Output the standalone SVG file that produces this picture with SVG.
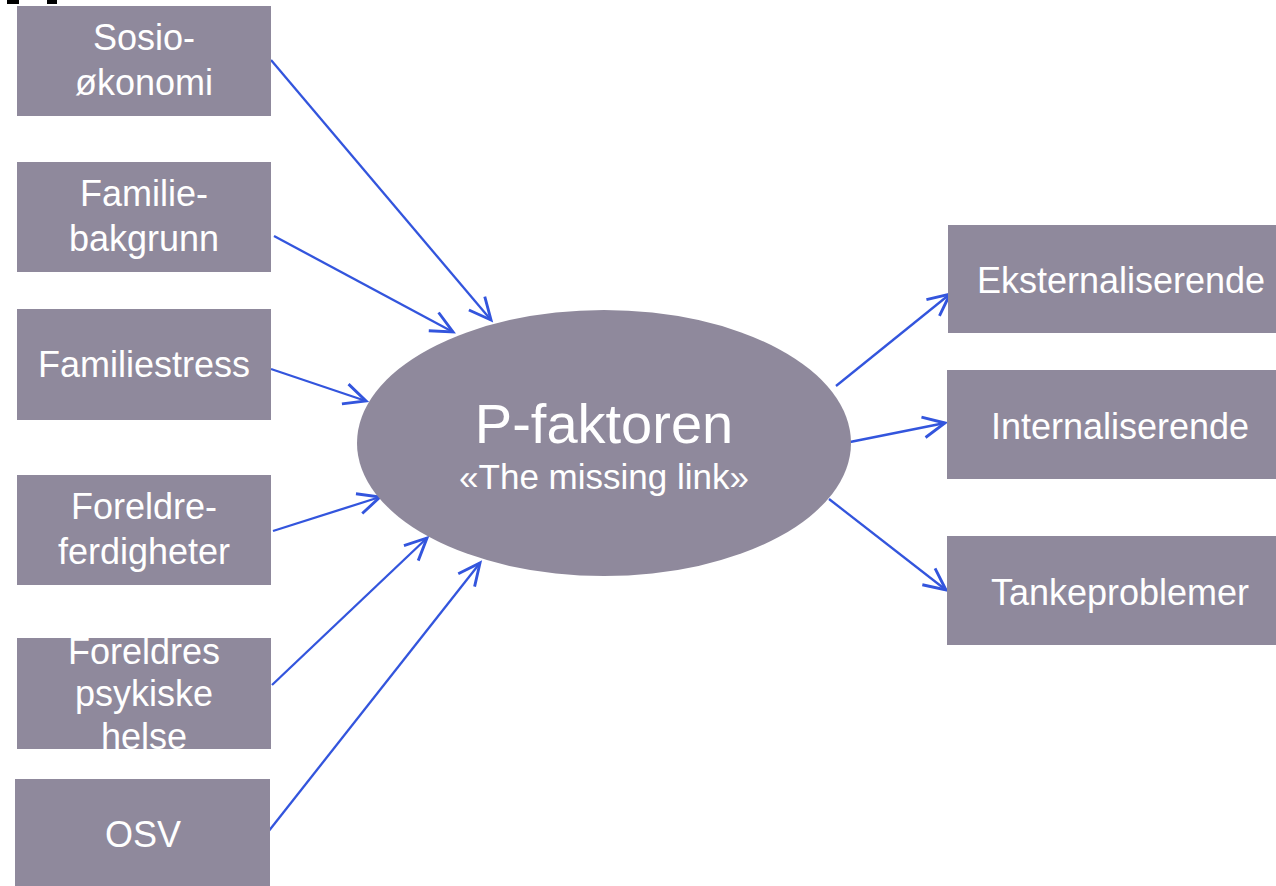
<svg xmlns="http://www.w3.org/2000/svg" width="1276" height="886" viewBox="0 0 1276 886">
<style>
.box{fill:#8f899c}
.t{fill:#ffffff;font-family:"Liberation Sans",Arial,sans-serif;font-size:36px;text-anchor:middle}
.c{stroke:#3355dd;stroke-width:2.3;fill:none}
</style>
<defs>
<marker id="ah" markerUnits="userSpaceOnUse" markerWidth="30" markerHeight="30" viewBox="-22 -12 26 24" refX="0" refY="0" orient="auto">
<path d="M-19,-9 L0,0 L-19,9" fill="none" stroke="#3355dd" stroke-width="2.5" stroke-linejoin="miter"/>
</marker>
</defs>
<rect x="0" y="0" width="1276" height="886" fill="#ffffff"/>
<rect x="7" y="0" width="12" height="4" fill="#000"/>
<rect x="47" y="0" width="10" height="4" fill="#000"/>
<g id="connectors">
<line class="c" x1="271" y1="60" x2="491" y2="320" marker-end="url(#ah)"/>
<line class="c" x1="274" y1="236" x2="453" y2="332" marker-end="url(#ah)"/>
<line class="c" x1="271" y1="369" x2="366" y2="401" marker-end="url(#ah)"/>
<line class="c" x1="273" y1="531" x2="380" y2="497" marker-end="url(#ah)"/>
<line class="c" x1="272" y1="685" x2="427" y2="538" marker-end="url(#ah)"/>
<line class="c" x1="268" y1="832" x2="480" y2="563" marker-end="url(#ah)"/>
<line class="c" x1="836" y1="386" x2="950" y2="294" marker-end="url(#ah)"/>
<line class="c" x1="850" y1="442" x2="945" y2="423" marker-end="url(#ah)"/>
<line class="c" x1="829" y1="499" x2="946" y2="590" marker-end="url(#ah)"/>
</g>
<g id="n-sosio"><rect class="box" x="17" y="6" width="254" height="110"/><text class="t" x="144" y="50">Sosio-</text><text class="t" x="144" y="95">økonomi</text></g>
<g id="n-familie"><rect class="box" x="17" y="162" width="254" height="110"/><text class="t" x="144" y="206">Familie-</text><text class="t" x="144" y="251">bakgrunn</text></g>
<g id="n-stress"><rect class="box" x="17" y="309" width="254" height="111"/><text class="t" x="144" y="377">Familiestress</text></g>
<g id="n-ferdigheter"><rect class="box" x="17" y="475" width="254" height="110"/><text class="t" x="144" y="519">Foreldre-</text><text class="t" x="144" y="564">ferdigheter</text></g>
<g id="n-psykisk"><rect class="box" x="17" y="638" width="254" height="111"/><text class="t" x="144" y="664">Foreldres</text><text class="t" x="144" y="706">psykiske</text><text class="t" x="144" y="749">helse</text></g>
<g id="n-osv"><rect class="box" x="15" y="779" width="255" height="107"/><text class="t" x="143" y="847">OSV</text></g>
<g id="n-p"><ellipse class="box" cx="604" cy="443" rx="247" ry="133"/><text class="t" x="604" y="443" style="font-size:56px">P-faktoren</text><text class="t" x="604" y="489" style="font-size:35px">«The missing link»</text></g>
<g id="n-ekst"><rect class="box" x="948" y="225" width="328" height="108"/><text class="t" x="1121" y="293">Eksternaliserende</text></g>
<g id="n-int"><rect class="box" x="947" y="370" width="329" height="109"/><text class="t" x="1120" y="439">Internaliserende</text></g>
<g id="n-tanke"><rect class="box" x="947" y="536" width="329" height="109"/><text class="t" x="1120" y="605">Tankeproblemer</text></g>
</svg>
